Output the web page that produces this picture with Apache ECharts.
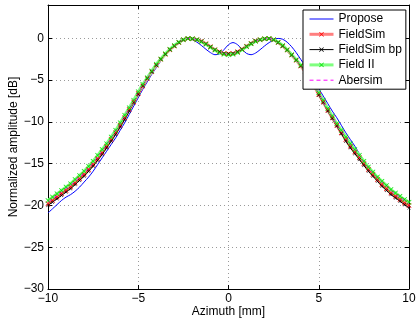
<!DOCTYPE html>
<html>
<head>
<meta charset="utf-8">
<script src="https://cdn.jsdelivr.net/npm/echarts@6/dist/echarts.min.js"></script>
<style>
  html, body { margin: 0; padding: 0; background: #fff; }
  #chart { width: 416px; height: 323px; }
</style>
</head>
<body>
<div id="chart"></div>
<script>
// Lateral beam profiles, azimuth in mm vs normalized amplitude in dB
const azimuth = [
  -10, -9.75, -9.5, -9.25, -9, -8.75, -8.5, -8.25, -8, -7.75,
  -7.5, -7.25, -7, -6.75, -6.5, -6.25, -6, -5.75, -5.5, -5.25,
  -5, -4.75, -4.5, -4.25, -4, -3.75, -3.5, -3.25, -3, -2.75,
  -2.5, -2.25, -2, -1.75, -1.5, -1.25, -1, -0.75, -0.5, -0.25,
  0, 0.25, 0.5, 0.75, 1, 1.25, 1.5, 1.75, 2, 2.25,
  2.5, 2.75, 3, 3.25, 3.5, 3.75, 4, 4.25, 4.5, 4.75,
  5, 5.25, 5.5, 5.75, 6, 6.25, 6.5, 6.75, 7, 7.25,
  7.5, 7.75, 8, 8.25, 8.5, 8.75, 9, 9.25, 9.5, 9.75, 10
];

const propose = [
  -20.9, -20.4, -19.9, -19.4, -19.0, -18.7, -18.3, -17.8, -17.2, -16.6,
  -15.9, -15.1, -14.3, -13.5, -12.7, -11.9, -11.0, -10.1, -9.1, -8.1,
  -7.1, -6.1, -5.2, -4.3, -3.5, -2.7, -2.0, -1.4, -0.9, -0.45,
  -0.15, 0, -0.15, -0.45, -0.85, -1.3, -1.7, -1.95, -1.85, -1.35,
  -0.75, -0.5, -0.75, -1.3, -1.8, -1.95, -1.75, -1.35, -0.9, -0.5,
  -0.2, 0, -0.1, -0.45, -1.0, -1.7, -2.5, -3.3, -4.2, -5.1,
  -6.0, -6.9, -7.8, -8.7, -9.5, -10.4, -11.3, -12.1, -12.9, -13.8,
  -14.6, -15.3, -16.0, -16.6, -17.1, -17.7, -18.2, -18.7, -19.1, -19.7, -20.2
];

const fieldSim = [
  -19.8, -19.4, -19.0, -18.6, -18.2, -17.8, -17.3, -16.8, -16.3, -15.7,
  -15.1, -14.4, -13.7, -12.9, -12.1, -11.3, -10.4, -9.5, -8.5, -7.6,
  -6.6, -5.7, -4.8, -4.0, -3.2, -2.5, -1.9, -1.35, -0.9, -0.5,
  -0.15, 0, -0.05, -0.15, -0.35, -0.65, -1.0, -1.35, -1.6, -1.8,
  -1.85, -1.8, -1.6, -1.3, -0.95, -0.6, -0.3, -0.15, -0.05, 0,
  -0.15, -0.5, -0.9, -1.4, -2.0, -2.6, -3.3, -4.0, -4.8, -5.7,
  -6.7, -7.6, -8.6, -9.5, -10.4, -11.3, -12.1, -12.9, -13.6, -14.3,
  -15.0, -15.7, -16.3, -16.9, -17.5, -18.0, -18.5, -18.9, -19.3, -19.7, -20.0
];

const fieldSimBp = [
  -20.0, -19.6, -19.2, -18.8, -18.4, -18.0, -17.5, -17.0, -16.5, -15.9,
  -15.3, -14.6, -13.9, -13.1, -12.3, -11.5, -10.6, -9.7, -8.7, -7.7,
  -6.7, -5.7, -4.8, -4.0, -3.2, -2.5, -1.9, -1.35, -0.9, -0.5,
  -0.15, 0, -0.05, -0.15, -0.35, -0.65, -1.0, -1.35, -1.6, -1.8,
  -1.85, -1.8, -1.6, -1.3, -0.95, -0.6, -0.3, -0.15, -0.05, 0,
  -0.15, -0.5, -0.9, -1.4, -2.0, -2.6, -3.3, -4.0, -4.8, -5.7,
  -6.8, -7.7, -8.7, -9.6, -10.5, -11.4, -12.3, -13.1, -13.8, -14.5,
  -15.2, -15.9, -16.5, -17.1, -17.7, -18.2, -18.7, -19.1, -19.5, -19.9, -20.3
];

const fieldII = [
  -19.4, -19.0, -18.6, -18.2, -17.8, -17.4, -16.9, -16.4, -15.9, -15.3,
  -14.7, -14.0, -13.3, -12.6, -11.8, -11.0, -10.1, -9.2, -8.3, -7.4,
  -6.4, -5.5, -4.7, -3.9, -3.1, -2.45, -1.85, -1.3, -0.85, -0.45,
  -0.15, 0, -0.05, -0.15, -0.4, -0.7, -1.05, -1.4, -1.7, -1.9,
  -1.95, -1.9, -1.7, -1.35, -1.0, -0.65, -0.35, -0.15, -0.05, 0,
  -0.15, -0.45, -0.85, -1.35, -1.95, -2.55, -3.2, -3.9, -4.7, -5.6,
  -6.5, -7.4, -8.4, -9.3, -10.2, -11.0, -11.8, -12.6, -13.3, -14.0,
  -14.7, -15.4, -16.0, -16.6, -17.1, -17.6, -18.1, -18.5, -18.9, -19.3, -19.6
];

const abersim = [
  -19.6, -19.2, -18.8, -18.4, -18.0, -17.6, -17.1, -16.6, -16.1, -15.5,
  -14.9, -14.2, -13.5, -12.7, -11.9, -11.1, -10.2, -9.3, -8.4, -7.5,
  -6.5, -5.6, -4.75, -3.95, -3.15, -2.5, -1.9, -1.35, -0.9, -0.5,
  -0.15, 0, -0.05, -0.15, -0.35, -0.65, -1.0, -1.35, -1.6, -1.8,
  -1.85, -1.8, -1.6, -1.3, -0.95, -0.6, -0.3, -0.15, -0.05, 0,
  -0.15, -0.5, -0.9, -1.4, -2.0, -2.6, -3.25, -3.95, -4.75, -5.6,
  -6.6, -7.5, -8.5, -9.4, -10.3, -11.1, -11.9, -12.7, -13.4, -14.1,
  -14.8, -15.5, -16.1, -16.7, -17.2, -17.7, -18.2, -18.6, -19.0, -19.4, -19.8
];

const seriesNames = ['Propose', 'FieldSim', 'FieldSim bp', 'Field II', 'Abersim'];
const xTicks = [-10, -5, 0, 5, 10];
const yTicks = [-30, -25, -20, -15, -10, -5, 0];

const FONT = '"Liberation Sans", Arial, Helvetica, sans-serif';
const CROSS = 'path://M0,1L1,0L5,4L9,0L10,1L6,5L10,9L9,10L5,6L1,10L0,9L4,5Z';

function pairs(ys) {
  return azimuth.map((x, i) => [x, ys[i]]);
}
function minus(v) {
  return String(v).replace('-', '\u2212');
}

const tickStyle = { show: true, inside: true, length: 4, lineStyle: { color: '#000', width: 1 } };
const lineAxis = { show: true, onZero: false, lineStyle: { color: '#000', width: 1 } };
const gridLine = { show: true, lineStyle: { color: '#9a9a9a', width: 1, type: [1, 3] } };
// plain line entries in the legend (no marker drawn on the sample)
const noMarker = { color: 'rgba(0,0,0,0)', borderWidth: 0, opacity: 0 };

const chart = echarts.init(document.getElementById('chart'), null, { renderer: 'canvas' });

chart.setOption({
  animation: false,
  backgroundColor: '#fff',
  textStyle: { fontFamily: FONT },
  grid: { left: 48, right: 7, top: 5, bottom: 34, containLabel: false, outerBoundsMode: 'none' },
  legend: {
    orient: 'vertical',
    left: 303,
    top: 10,
    data: [
      { name: seriesNames[0], itemStyle: noMarker, lineStyle: { color: '#0000ff', width: 1 } },
      { name: seriesNames[1], lineStyle: { color: '#ff7f7f', width: 3 } },
      { name: seriesNames[2], lineStyle: { color: '#000000', width: 1 } },
      { name: seriesNames[3], lineStyle: { color: '#7fff7f', width: 3 } },
      { name: seriesNames[4], itemStyle: noMarker, lineStyle: { color: '#ff00ff', width: 1, type: [4, 3] } }
    ],
    backgroundColor: '#fff',
    borderColor: '#000',
    borderWidth: 1,
    borderRadius: 0,
    padding: [2, 4, 2, 5],
    itemWidth: 24,
    itemHeight: 6,
    itemGap: 1.3,
    textStyle: { fontFamily: FONT, fontSize: 12, color: '#000', lineHeight: 14 }
  },
  xAxis: [{
    type: 'value', position: 'bottom', min: -10, max: 10, interval: 5,
    axisLine: lineAxis, axisTick: tickStyle, splitLine: gridLine,
    axisLabel: {
      margin: 4, color: '#000', fontSize: 12, fontFamily: FONT,
      formatter: v => xTicks.includes(v) ? minus(v) : ''
    },
    name: 'Azimuth [mm]', nameLocation: 'middle', nameGap: 17, nameMoveOverlap: false,
    nameTextStyle: { color: '#000', fontSize: 12, fontFamily: FONT }
  }, {
    type: 'value', position: 'top', min: -10, max: 10, interval: 5,
    axisLine: lineAxis, axisTick: tickStyle, splitLine: { show: false },
    axisLabel: { show: false }
  }],
  yAxis: [{
    type: 'value', position: 'left', min: -30, max: 4, interval: 5,
    axisLine: lineAxis, axisTick: tickStyle, splitLine: gridLine,
    axisLabel: {
      margin: 4, color: '#000', fontSize: 12, fontFamily: FONT,
      formatter: v => yTicks.includes(v) ? minus(v) : ''
    },
    name: 'Normalized amplitude [dB]', nameLocation: 'middle', nameGap: 28, nameMoveOverlap: false,
    nameTextStyle: { color: '#000', fontSize: 12, fontFamily: FONT }
  }, {
    type: 'value', position: 'right', min: -30, max: 4, interval: 5,
    axisLine: lineAxis, axisTick: tickStyle, splitLine: { show: false },
    axisLabel: { show: false }
  }],
  series: [
    {
      name: seriesNames[0], type: 'line', data: pairs(propose),
      smooth: 0.3, showSymbol: false, symbol: 'none',
      lineStyle: { color: '#0000ff', width: 1 }, itemStyle: { color: '#0000ff' }
    },
    {
      name: seriesNames[1], type: 'line', data: pairs(fieldSim),
      smooth: 0.3, showSymbol: true, symbol: CROSS, symbolSize: 5,
      lineStyle: { color: '#ff7f7f', width: 3 }, itemStyle: { color: '#ff0000' }
    },
    {
      name: seriesNames[2], type: 'line', data: pairs(fieldSimBp),
      smooth: 0.3, showSymbol: true, symbol: CROSS, symbolSize: 3.5,
      lineStyle: { color: '#000000', width: 1 }, itemStyle: { color: '#000000' }
    },
    {
      name: seriesNames[3], type: 'line', data: pairs(fieldII),
      smooth: 0.3, showSymbol: true, symbol: CROSS, symbolSize: 5,
      lineStyle: { color: '#7fff7f', width: 3 }, itemStyle: { color: '#00e000' }
    },
    {
      name: seriesNames[4], type: 'line', data: pairs(abersim),
      smooth: 0.3, showSymbol: false, symbol: 'none',
      lineStyle: { color: '#ff00ff', width: 1, type: [4, 3] }, itemStyle: { color: '#ff00ff' }
    }
  ]
});
</script>
</body>
</html>
